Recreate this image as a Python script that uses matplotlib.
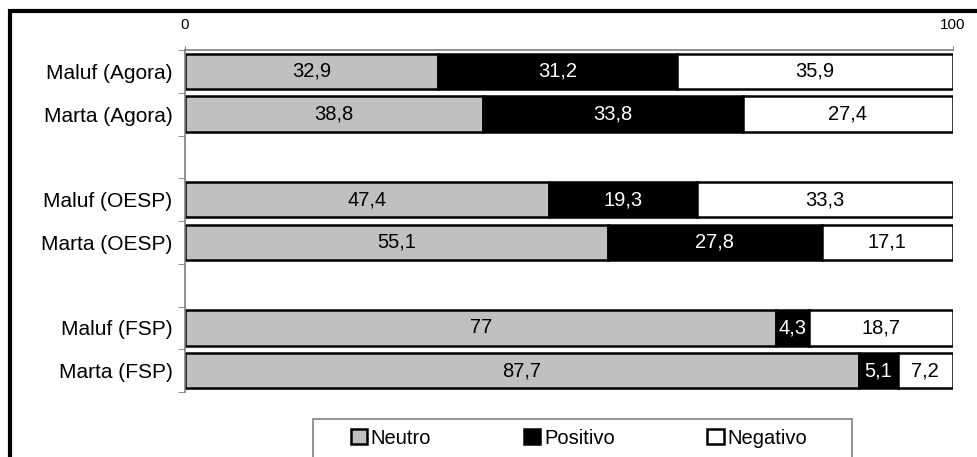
import matplotlib.pyplot as plt
from matplotlib.patches import Rectangle

plt.rcParams['font.family'] = ['Liberation Sans', 'DejaVu Sans']

# categorias (linhas vazias separam os jornais)
categorias = ['Maluf (Agora)', 'Marta (Agora)', '',
              'Maluf (OESP)', 'Marta (OESP)', '',
              'Maluf (FSP)', 'Marta (FSP)']
rotulos = ['Maluf (Agora)', 'Marta (Agora)', 'Maluf (OESP)',
           'Marta (OESP)', 'Maluf (FSP)', 'Marta (FSP)']
neutro = [32.9, 38.8, 47.4, 55.1, 77, 87.7]
positivo = [31.2, 33.8, 19.3, 27.8, 4.3, 5.1]
negativo = [35.9, 27.4, 33.3, 17.1, 18.7, 7.2]

series = [('Neutro', neutro, '#c0c0c0', 'black'),
          ('Positivo', positivo, 'black', 'white'),
          ('Negativo', negativo, 'white', 'black')]

fig = plt.figure(figsize=(9.78, 4.57), dpi=100)
ax = fig.add_axes([185 / 978, 1 - 392 / 457, 768 / 978, 342 / 457])

pos = [categorias.index(r) for r in rotulos]
esq = [0] * len(rotulos)
handles = []
for nome, vals, cor, cor_txt in series:
    b = ax.barh(pos, vals, left=esq, height=0.83, color=cor,
                edgecolor='black', linewidth=1.8, label=nome)
    for p, v, l in zip(pos, vals, esq):
        ax.text(l + v / 2, p, str(v).replace('.', ','), ha='center',
                va='center', fontsize=14.5, color=cor_txt)
    esq = [a + v for a, v in zip(esq, vals)]
    handles.append(b)

ax.set_xlim(0, 100)
ax.set_ylim(len(categorias) - 0.5, -0.5)
ax.xaxis.tick_top()
ax.set_xticks([0, 100])
ax.tick_params(axis='x', labelsize=11, length=3, pad=10, color='#808080')
ax.set_yticks(range(len(categorias)))
ax.set_yticklabels(categorias, fontsize=15)
ax.set_yticks([i - 0.5 for i in range(len(categorias) + 1)], minor=True)
ax.tick_params(axis='y', which='major', length=0, pad=9)
ax.tick_params(axis='y', which='minor', length=5, color='#808080')
for s in ['right', 'bottom']:
    ax.spines[s].set_visible(False)
for s in ['top', 'left']:
    ax.spines[s].set_color('#808080')
    ax.spines[s].set_linewidth(1.2)

# moldura externa (cortada na imagem)
fig.patches.append(Rectangle((10 / 978, -0.1), 1.0, 1 - 11 / 457 + 0.1,
                             transform=fig.transFigure, fill=False,
                             edgecolor='black', linewidth=3))
# caixa da legenda
fig.patches.append(Rectangle((313 / 978, -0.1), 539 / 978, 1 - 419 / 457 + 0.1,
                             transform=fig.transFigure, fill=False,
                             edgecolor='#808080', linewidth=1.2))
fig.legend(handles=handles, loc='center', bbox_to_anchor=(0.592, 1 - 438 / 457),
           ncol=3, frameon=False, fontsize=14.5, handlelength=0.8,
           handleheight=0.8, handletextpad=0.2, columnspacing=4.6)

fig.savefig('out.png', dpi=100)
